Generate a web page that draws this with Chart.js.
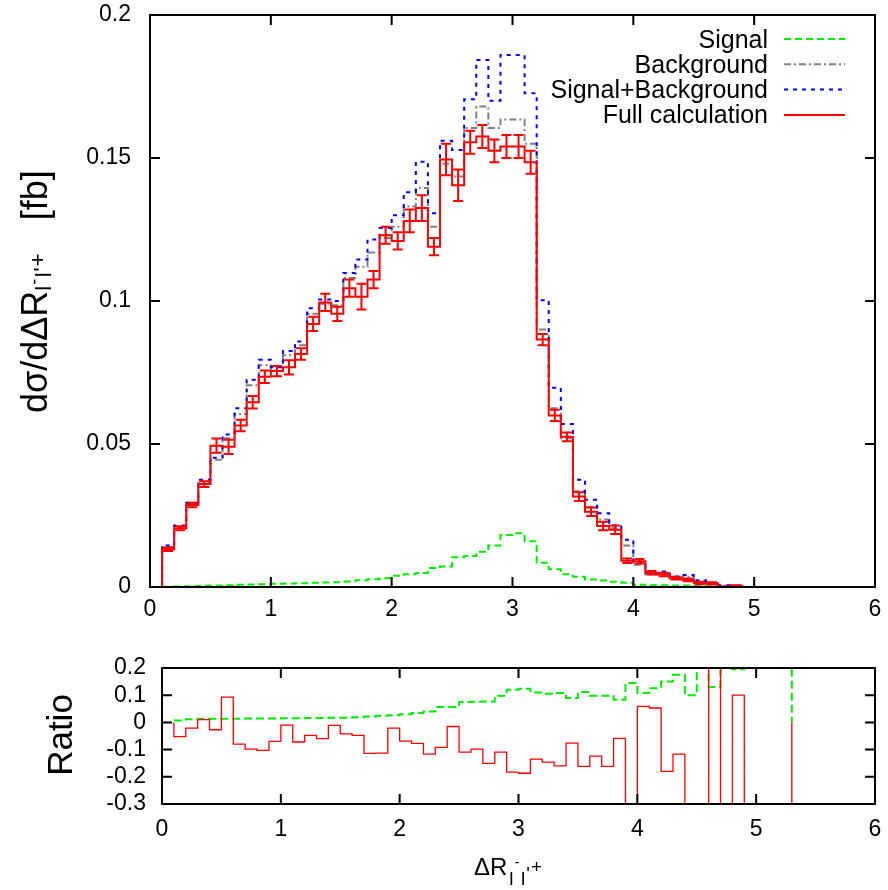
<!DOCTYPE html>
<html lang="en">
<head>
  <meta charset="UTF-8">
  <title>dsigma/dDeltaR with ratio</title>
  <script src="https://cdn.jsdelivr.net/npm/chart.js"></script>
  <style>
    body { margin: 0; background: #fff; }
    #wrap { position: relative; width: 888px; height: 890px; }
    canvas { position: absolute; left: 0; }
  </style>
</head>
<body>
<div id="wrap">
  <canvas id="mainChart" width="888" height="640" style="top:0"></canvas>
  <canvas id="ratioChart" width="888" height="250" style="top:640px"></canvas>
</div>
<script>
  // bin edges in Delta R (width 0.1)
  const binEdges = [0.1,0.2,0.3,0.4,0.5,0.6,0.7,0.8,0.9,1.0,1.1,1.2,1.3,1.4,1.5,1.6,1.7,1.8,1.9,2.0,
    2.1,2.2,2.3,2.4,2.5,2.6,2.7,2.8,2.9,3.0,3.1,3.2,3.3,3.4,3.5,3.6,3.7,3.8,3.9,4.0,
    4.1,4.2,4.3,4.4,4.5,4.6,4.7,4.8,4.9,5.0,5.1,5.2,5.3,5.4,5.5,5.6,5.7,5.8,5.9,6.0];

  // upper panel, d sigma / d Delta R [fb], one value per bin
  const signal = [0.0001,0.0002,0.0003,0.0004,0.0005,0.0006,0.0008,0.0009,0.0010,0.0011,
    0.0012,0.0013,0.0015,0.0016,0.0017,0.0019,0.0024,0.0027,0.0031,0.0039,
    0.0045,0.0049,0.0066,0.0072,0.0104,0.0108,0.0123,0.0145,0.0182,0.0188,
    0.0160,0.0085,0.0062,0.0045,0.0036,0.0026,0.0023,0.0018,0.0015,0.0008,
    0.0006,0.0006,0.0005,0.0005,0.0004,0.0002,0.0001,0,0,0,
    0,0,0,0,0,0,0,0,0];
  const background = [0.0140,0.0210,0.0290,0.0365,0.0445,0.0520,0.0605,0.0705,0.0775,0.0755,
    0.0810,0.0845,0.0955,0.0990,0.0985,0.1080,0.1120,0.1170,0.1220,0.1260,
    0.1330,0.1395,0.1260,0.1480,0.1435,0.1605,0.1680,0.1605,0.1635,0.1635,
    0.1550,0.0900,0.0625,0.0520,0.0335,0.0280,0.0236,0.0205,0.0145,0.0078,
    0.0044,0.0048,0.0032,0.0036,0.0020,0.0011,0.0005,0.0003,0,0,
    0,0,0,0,0,0,0,0,0];
  const sigPlusBkg = [0.0145,0.0215,0.0295,0.0375,0.0452,0.0533,0.0625,0.0725,0.0795,0.0768,
    0.0825,0.0858,0.0975,0.1005,0.1000,0.1098,0.1145,0.1215,0.1255,0.1300,
    0.1380,0.1487,0.1307,0.1560,0.1528,0.1705,0.1843,0.1700,0.1860,0.1860,
    0.1726,0.1003,0.0697,0.0570,0.0375,0.0305,0.0258,0.0215,0.0165,0.0086,
    0.0048,0.0054,0.0037,0.0042,0.0024,0.0012,0.0006,0.0003,0,0,
    0,0,0,0,0,0,0,0,0];
  const fullCalc = [0.0132,0.0205,0.0287,0.0360,0.0494,0.0490,0.0565,0.0646,0.0735,0.0755,
    0.0768,0.0815,0.0920,0.0995,0.0955,0.1045,0.1015,0.1075,0.1230,0.1210,
    0.1280,0.1325,0.1190,0.1495,0.1405,0.1555,0.1575,0.1525,0.1540,0.1540,
    0.1485,0.0865,0.0600,0.0525,0.0316,0.0263,0.0213,0.0200,0.0092,0.0090,
    0.0050,0.0044,0.0031,0.0025,0.0014,0.0013,0.0001,0.0004,0,0,
    0,0,0,0,0,0,0,0,0];
  const fullErr = [0.0006,0.0007,0.0008,0.0010,0.0025,0.0025,0.0020,0.0022,0.0022,0.0018,
    0.0025,0.0020,0.0025,0.0030,0.0025,0.0030,0.0045,0.0030,0.0030,0.0030,
    0.0040,0.0045,0.0030,0.0055,0.0055,0.0040,0.0040,0.0040,0.0040,0.0040,
    0.0040,0.0020,0.0020,0.0015,0.0015,0.0015,0.0015,0.0015,0.0008,0.0008,
    0.0006,0.0006,0.0005,0.0005,0.0004,0.0004,0.0001,0.0002,0,0,
    0,0,0,0,0,0,0,0,0];

  // lower panel, bins 0.1 .. 5.2 (ends at 5.3)
  const ratioSignal = [0.007,0.012,0.013,0.013,0.013,0.013,0.014,0.014,0.014,0.015,
    0.015,0.016,0.016,0.017,0.017,0.019,0.022,0.024,0.026,0.030,
    0.035,0.040,0.057,0.057,0.075,0.076,0.077,0.098,0.120,0.124,
    0.110,0.105,0.108,0.090,0.112,0.098,0.098,0.083,0.145,0.108,
    0.126,0.150,0.175,0.100,0.300,0.130,0.300,0.195,0.300,0.300,
    0.300,0.300];
  const ratioFull = [-0.052,-0.021,0.010,-0.027,0.093,-0.080,-0.098,-0.103,-0.070,-0.010,
    -0.072,-0.048,-0.060,-0.011,-0.042,-0.048,-0.114,-0.113,-0.021,-0.069,
    -0.077,-0.117,-0.092,-0.015,-0.109,-0.098,-0.151,-0.109,-0.183,-0.187,
    -0.135,-0.146,-0.160,-0.076,-0.162,-0.124,-0.162,-0.059,-0.600,0.059,
    0.053,-0.180,-0.117,-0.500,-0.600,0.500,-1,0.100,-1,-1,
    -1,-1];

  const FONT = '"Liberation Sans", Arial, sans-serif';
  Chart.defaults.font.family = FONT;
  Chart.defaults.color = '#000';

  // histogram steps: start at 0 on the first edge, hold each value over its bin
  function steps(vals, startZero) {
    const pts = startZero ? [{ x: binEdges[0], y: 0 }] : [];
    vals.forEach((v, i) => pts.push({ x: binEdges[i], y: v }));
    return pts;
  }
  function histo(vals) {
    const pts = steps(vals, true);
    pts.push({ x: binEdges[vals.length], y: vals[vals.length - 1] });
    return pts;
  }

  // text with sub/superscripts, parts = [text, size factor, y offset factor, extra gap]
  function drawRich(ctx, parts, size) {
    let x = 0;
    parts.forEach(([txt, k, dy, gap]) => {
      ctx.font = Math.round(size * k) + 'px ' + FONT;
      ctx.fillText(txt, x, dy * size);
      x += ctx.measureText(txt).width + (gap || 0);
    });
  }
  const llSub = [['l', 0.8, 0.42, 1], ['-', 0.64, -0.35, 1.5], ['l', 0.8, 0.42, 1], ['\'', 0.8, 0.2, 1], ['+', 0.8, -0.08]];

  // box around the plot, inward ticks on all four sides, tick labels
  const frame = {
    id: 'frame',
    afterDraw(chart, args, opts) {
      const { ctx, chartArea: a, scales: { x, y } } = chart;
      ctx.save();
      ctx.strokeStyle = '#000';
      ctx.lineWidth = 2;
      ctx.beginPath();
      x.ticks.forEach(t => {
        const px = x.getPixelForValue(t.value);
        ctx.moveTo(px, a.bottom); ctx.lineTo(px, a.bottom - 10);
        ctx.moveTo(px, a.top); ctx.lineTo(px, a.top + 10);
      });
      y.ticks.forEach(t => {
        const py = y.getPixelForValue(t.value);
        ctx.moveTo(a.left, py); ctx.lineTo(a.left + 10, py);
        ctx.moveTo(a.right, py); ctx.lineTo(a.right - 10, py);
      });
      ctx.stroke();
      ctx.strokeRect(a.left, a.top, a.right - a.left, a.bottom - a.top);

      ctx.fillStyle = '#000';
      ctx.font = opts.size + 'px ' + FONT;
      ctx.textBaseline = 'middle';
      ctx.textAlign = 'center';
      x.ticks.forEach(t => ctx.fillText(String(+t.value.toFixed(2)), x.getPixelForValue(t.value), a.bottom + opts.xGap));
      ctx.textAlign = 'right';
      y.ticks.forEach(t => ctx.fillText(String(+t.value.toFixed(2)), a.left - opts.yGap, y.getPixelForValue(t.value)));
      ctx.restore();
    }
  };

  const errorBars = {
    id: 'errorBars',
    afterDatasetsDraw(chart) {
      const { ctx, chartArea: a, scales: { x, y } } = chart;
      ctx.save();
      ctx.beginPath();
      ctx.rect(a.left, a.top, a.right - a.left, a.bottom - a.top);
      ctx.clip();
      ctx.strokeStyle = '#ff0000';
      ctx.lineWidth = 2;
      ctx.beginPath();
      fullCalc.forEach((v, i) => {
        if (!v) return;
        const xc = x.getPixelForValue((binEdges[i] + binEdges[i + 1]) / 2);
        const hi = y.getPixelForValue(v + fullErr[i]);
        const lo = y.getPixelForValue(v - fullErr[i]);
        ctx.moveTo(xc, hi); ctx.lineTo(xc, lo);
        ctx.moveTo(xc - 5, hi); ctx.lineTo(xc + 5, hi);
        ctx.moveTo(xc - 5, lo); ctx.lineTo(xc + 5, lo);
      });
      ctx.stroke();
      ctx.restore();
    }
  };

  const legendBox = {
    id: 'legendBox',
    afterDraw(chart) {
      const ctx = chart.ctx;
      const rows = chart.data.datasets.slice().sort((p, q) => q.order - p.order);
      ctx.save();
      ctx.font = '25px ' + FONT;
      ctx.textAlign = 'right';
      ctx.textBaseline = 'alphabetic';
      rows.forEach((ds, i) => {
        const yl = 39 + i * 25.3;
        ctx.fillStyle = '#000';
        ctx.fillText(ds.label, 768, yl + 8.5);
        ctx.strokeStyle = ds.borderColor;
        ctx.lineWidth = 2;
        ctx.setLineDash(ds.borderDash || []);
        ctx.beginPath();
        ctx.moveTo(784, yl); ctx.lineTo(845, yl);
        ctx.stroke();
      });
      ctx.restore();
    }
  };

  const mainTitle = {
    id: 'mainTitle',
    afterDraw(chart) {
      const ctx = chart.ctx;
      ctx.save();
      ctx.fillStyle = '#000';
      ctx.textBaseline = 'alphabetic';
      ctx.translate(47, 413);
      ctx.rotate(-Math.PI / 2);
      const sub = [['l', 0.62, 0.12, 1], ['-', 0.5, -0.2, 1.5], ['l', 0.62, 0.12, 1], ['\'', 0.62, 0.05, 1], ['+', 0.62, -0.05, 33]];
      drawRich(ctx, [['dσ/dΔR', 1, 0]].concat(sub, [['[fb]', 1, 0]]), 36);
      ctx.restore();
    }
  };

  const ratioTitles = {
    id: 'ratioTitles',
    afterDraw(chart) {
      const ctx = chart.ctx;
      ctx.save();
      ctx.fillStyle = '#000';
      ctx.textBaseline = 'alphabetic';
      ctx.save();
      ctx.translate(474, 235);
      drawRich(ctx, [['ΔR', 1, 0, 2]].concat(llSub), 24);
      ctx.restore();
      ctx.translate(72, 95);
      ctx.rotate(-Math.PI / 2);
      ctx.textAlign = 'center';
      ctx.font = '35px ' + FONT;
      ctx.fillText('Ratio', 0, 0);
      ctx.restore();
    }
  };

  const hidden = { display: false };

  new Chart(document.getElementById('mainChart'), {
    type: 'line',
    data: {
      datasets: [
        { label: 'Full calculation', data: histo(fullCalc), borderColor: '#ff0000', borderWidth: 2, order: 0 },
        { label: 'Signal+Background', data: histo(sigPlusBkg), borderColor: '#0000ff', borderDash: [4, 5], borderWidth: 2, order: 1 },
        { label: 'Background', data: histo(background), borderColor: '#808080', borderDash: [7, 3, 2, 3], borderWidth: 2, order: 2 },
        { label: 'Signal', data: histo(signal), borderColor: '#00ee00', borderDash: [7, 4], borderWidth: 2, order: 3 }
      ]
    },
    options: {
      responsive: false,
      animation: false,
      layout: { padding: { top: 15, right: 13, left: 0, bottom: 0 } },
      elements: { point: { radius: 0 }, line: { stepped: true, tension: 0, fill: false } },
      plugins: {
        legend: { display: false }, tooltip: { enabled: false },
        frame: { size: 23, xGap: 23, yGap: 19 }
      },
      scales: {
        x: {
          type: 'linear', min: 0, max: 6,
          grid: hidden, border: hidden,
          ticks: { display: false, stepSize: 1 },
          afterFit: s => { s.height = 53; }
        },
        y: {
          min: 0, max: 0.2,
          grid: hidden, border: hidden,
          ticks: { display: false, stepSize: 0.05 },
          afterFit: s => { s.width = 150; }
        }
      }
    },
    plugins: [errorBars, frame, legendBox, mainTitle]
  });

  function ratioSteps(vals, startZero) {
    const pts = steps(vals, startZero);
    pts.push({ x: binEdges[vals.length], y: 0 });
    return pts;
  }

  new Chart(document.getElementById('ratioChart'), {
    type: 'line',
    data: {
      datasets: [
        { label: 'Full calculation', data: ratioSteps(ratioFull, true), borderColor: '#ff0000', borderWidth: 1.3, order: 0, clip: 0 },
        { label: 'Signal', data: ratioSteps(ratioSignal, false), borderColor: '#00ee00', borderDash: [8, 4], borderWidth: 2, order: 1, clip: 0 }
      ]
    },
    options: {
      responsive: false,
      animation: false,
      layout: { padding: { top: 28, right: 13, left: 0, bottom: 0 } },
      elements: { point: { radius: 0 }, line: { stepped: true, tension: 0, fill: false } },
      plugins: {
        legend: { display: false }, tooltip: { enabled: false },
        frame: { size: 23, xGap: 26, yGap: 16 }
      },
      scales: {
        x: {
          type: 'linear', min: 0, max: 6,
          grid: hidden, border: hidden,
          ticks: { display: false, stepSize: 1 },
          afterFit: s => { s.height = 86; }
        },
        y: {
          min: -0.3, max: 0.2,
          grid: hidden, border: hidden,
          ticks: { display: false, stepSize: 0.1 },
          afterFit: s => { s.width = 162; }
        }
      }
    },
    plugins: [frame, ratioTitles]
  });
</script>
</body>
</html>
